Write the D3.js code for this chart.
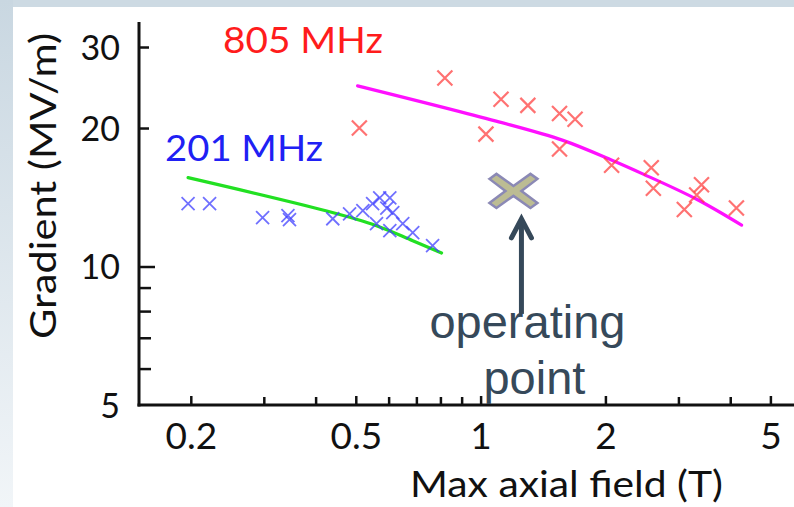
<!DOCTYPE html>
<html><head><meta charset="utf-8">
<script src="https://cdn.jsdelivr.net/npm/d3@7"></script>
<style>
html,body{margin:0;padding:0;background:#fff;}
svg{display:block;}
</style></head>
<body>
<svg id="chart" width="794" height="507"></svg>
<script>
// ---- data ----
const xTickValues = [0.2, 0.5, 1, 2, 5];
const xTickLabels = ["0.2", "0.5", "1", "2", "5"];
const xMinorTicks = [0.3, 0.4, 0.6, 0.7, 0.8, 0.9, 3, 4];
const yTickValues = [5, 10, 20, 30];
const yTickLabels = ["5", "10", "20", "30"];
const yMinorTicks = [6, 7, 8, 9];

const rf805X = [0.51, 0.82, 1.12, 1.30, 1.03, 1.55, 1.69, 1.55, 2.07, 2.58, 2.61, 3.41, 3.32, 3.10, 4.14];
const rf805Y = [20.0, 25.7, 23.1, 22.4, 19.4, 21.5, 20.9, 18.0, 16.6, 16.4, 14.8, 15.05, 14.3, 13.3, 13.4];
const fit805X = [0.505, 1.09, 1.58, 2.08, 2.46, 3.32, 4.26];
const fit805Y = [24.7, 20.7, 18.8, 17.0, 15.9, 14.0, 12.3];

const rf201X = [0.197, 0.222, 0.298, 0.343, 0.346, 0.44, 0.483, 0.52, 0.549, 0.571, 0.604, 0.594, 0.614, 0.561, 0.604, 0.649, 0.686, 0.766];
const rf201Y = [13.7, 13.7, 12.77, 12.9, 12.64, 12.7, 13.02, 13.22, 13.7, 14.1, 14.1, 13.4, 13.1, 12.4, 11.97, 12.4, 11.85, 11.1];
const fit201X = [0.197, 0.4256, 0.561, 0.686, 0.805];
const fit201Y = [15.6, 13.2, 12.27, 11.38, 10.7];

const opX = [1.2];
const opY = [14.6];

const seriesLabels = ["805 MHz", "201 MHz"];
const xLabel = "Max axial field (T)";
const yLabel = "Gradient (MV/m)";
const annotationLines = ["operating", "point"];

// ---- layout ----
const W = 794, H = 507;
const svg = d3.select("#chart");
const gillFont = "Lato, 'Open Sans', sans-serif";
const gillWeight = 400;

// background (slide frame)
const defs = svg.append("defs");
const lg = defs.append("linearGradient").attr("id", "leftGrad").attr("x1", 0).attr("y1", 0).attr("x2", 0).attr("y2", 1);
lg.append("stop").attr("offset", "0%").attr("stop-color", "#c9d7e1");
lg.append("stop").attr("offset", "100%").attr("stop-color", "#f1f5f8");
svg.append("rect").attr("x", 0).attr("y", 0).attr("width", W).attr("height", H).attr("fill", "#ffffff");
svg.append("rect").attr("x", 0).attr("y", 0).attr("width", W).attr("height", 7).attr("fill", "#cddae3");
svg.append("rect").attr("x", 0).attr("y", 0).attr("width", 13).attr("height", H).attr("fill", "url(#leftGrad)");

const x = d3.scaleLog().domain([0.15, 5.7]).range([139, 794]);
const y = d3.scaleLog().domain([5, 34]).range([405, 22]);

// ---- axes ----
const axisColor = "#111";
const yAxis = svg.append("g").attr("transform", "translate(139,0)")
  .call(d3.axisLeft(y).tickValues(yTickValues).tickFormat((d, i) => yTickLabels[i]).tickSize(-10).tickPadding(19));
yAxis.select(".domain").remove();
yAxis.selectAll(".tick line").attr("stroke", axisColor).attr("stroke-width", 2.5)
  .attr("x2", d => d === 10 ? 16 : (d === 5 ? 0 : 10));
yAxis.selectAll(".tick text").attr("font-family", gillFont).attr("font-weight", gillWeight)
  .attr("font-size", 34).attr("fill", "#111").attr("dy", "0.36em");
const yMin = svg.append("g").attr("transform", "translate(139,0)")
  .call(d3.axisLeft(y).tickValues(yMinorTicks).tickFormat("").tickSize(-12));
yMin.select(".domain").remove();
yMin.selectAll(".tick line").attr("stroke", axisColor).attr("stroke-width", 2.5);

const xAxis = svg.append("g").attr("transform", "translate(0,405)")
  .call(d3.axisBottom(x).tickValues(xTickValues).tickFormat((d, i) => xTickLabels[i]).tickSize(-9).tickPadding(18));
xAxis.select(".domain").remove();
xAxis.selectAll(".tick line").attr("stroke", axisColor).attr("stroke-width", 2.5);
xAxis.selectAll(".tick text").attr("font-family", gillFont).attr("font-weight", gillWeight)
  .attr("font-size", 37).attr("fill", "#111");
const xMin = svg.append("g").attr("transform", "translate(0,405)")
  .call(d3.axisBottom(x).tickValues(xMinorTicks).tickFormat("").tickSize(-8));
xMin.select(".domain").remove();
xMin.selectAll(".tick line").attr("stroke", axisColor).attr("stroke-width", 2.5);

svg.append("line").attr("x1", x.range()[0]).attr("x2", x.range()[0]).attr("y1", y.range()[1]).attr("y2", y.range()[0] + 1.5)
  .attr("stroke", axisColor).attr("stroke-width", 3);
svg.append("line").attr("x1", x.range()[0] - 1.5).attr("x2", x.range()[1]).attr("y1", y.range()[0]).attr("y2", y.range()[0])
  .attr("stroke", axisColor).attr("stroke-width", 3);

// axis titles
svg.append("text").attr("transform", "translate(56,186) rotate(-90)")
  .attr("text-anchor", "middle").attr("font-family", gillFont).attr("font-weight", gillWeight)
  .attr("font-size", 37).attr("fill", "#111")
  .attr("textLength", 306).attr("lengthAdjust", "spacingAndGlyphs").text(yLabel);
svg.append("text").attr("x", 410).attr("y", 497)
  .attr("font-family", gillFont).attr("font-weight", gillWeight).attr("font-size", 36).attr("fill", "#111")
  .attr("textLength", 313).attr("lengthAdjust", "spacingAndGlyphs").text(xLabel);

// series labels
svg.append("text").attr("x", 223).attr("y", 53).attr("font-family", gillFont).attr("font-weight", gillWeight)
  .attr("font-size", 36).attr("fill", "#ff1c1c").attr("textLength", 160).attr("lengthAdjust", "spacingAndGlyphs").text(seriesLabels[0]);
svg.append("text").attr("x", 165).attr("y", 161).attr("font-family", gillFont).attr("font-weight", gillWeight)
  .attr("font-size", 36).attr("fill", "#2020f4").attr("textLength", 158).attr("lengthAdjust", "spacingAndGlyphs").text(seriesLabels[1]);

// ---- fit lines ----
const line = d3.line().x(d => x(d[0])).y(d => y(d[1])).curve(d3.curveCatmullRom);
svg.append("path").datum(fit201X.map((v, i) => [v, fit201Y[i]])).attr("d", line)
  .attr("fill", "none").attr("stroke", "#22e022").attr("stroke-width", 3.2).attr("stroke-linecap", "round");
svg.append("path").datum(fit805X.map((v, i) => [v, fit805Y[i]])).attr("d", line)
  .attr("fill", "none").attr("stroke", "#ff10ff").attr("stroke-width", 3.2).attr("stroke-linecap", "round");

// ---- cross markers ----
function crossPath(s) { return `M${-s},${-s}L${s},${s}M${-s},${s}L${s},${-s}`; }
svg.append("g").selectAll("path").data(rf201X.map((v, i) => [v, rf201Y[i]])).join("path")
  .attr("transform", d => `translate(${x(d[0])},${y(d[1])})`).attr("d", crossPath(6.5))
  .attr("stroke", "#4040ff").attr("stroke-opacity", 0.75).attr("stroke-width", 1.8).attr("fill", "none");
svg.append("g").selectAll("path").data(rf805X.map((v, i) => [v, rf805Y[i]])).join("path")
  .attr("transform", d => `translate(${x(d[0])},${y(d[1])})`).attr("d", crossPath(7.5))
  .attr("stroke", "#ff3c3c").attr("stroke-opacity", 0.72).attr("stroke-width", 2.2).attr("fill", "none");

// ---- operating point ----
const opPts = [[-24,-12],[-17,-17],[0,-5],[17,-17],[24,-12],[8,0],[24,12],[17,17],[0,5],[-17,17],[-24,12],[-8,0]];
const ox = x(opX[0]), oy = y(opY[0]);
svg.append("polygon").attr("points", opPts.map(p => `${ox + p[0]},${oy + p[1]}`).join(" "))
  .attr("fill", "#bcbc93").attr("stroke", "#8b89b5").attr("stroke-width", 2.5).attr("stroke-linejoin", "miter");

// arrow
const ac = "#36495a";
const ax = ox + 8, tipY = oy + 28, tailY = oy + 123;
svg.append("line").attr("x1", ax).attr("x2", ax).attr("y1", tipY + 2).attr("y2", tailY)
  .attr("stroke", ac).attr("stroke-width", 5);
svg.append("path").attr("d", `M${ax - 10},${tipY + 19}L${ax},${tipY}L${ax + 10},${tipY + 19}`)
  .attr("fill", "none").attr("stroke", ac).attr("stroke-width", 5).attr("stroke-linecap", "round").attr("stroke-linejoin", "miter");

// annotation text
svg.append("text").attr("x", ox - 84).attr("y", oy + 147).attr("font-family", "'Liberation Sans', Arial, sans-serif")
  .attr("font-size", 47).attr("fill", ac).text(annotationLines[0]);
svg.append("text").attr("x", ox - 30).attr("y", oy + 203).attr("font-family", "'Liberation Sans', Arial, sans-serif")
  .attr("font-size", 47).attr("fill", ac).text(annotationLines[1]);
</script>
</body></html>
